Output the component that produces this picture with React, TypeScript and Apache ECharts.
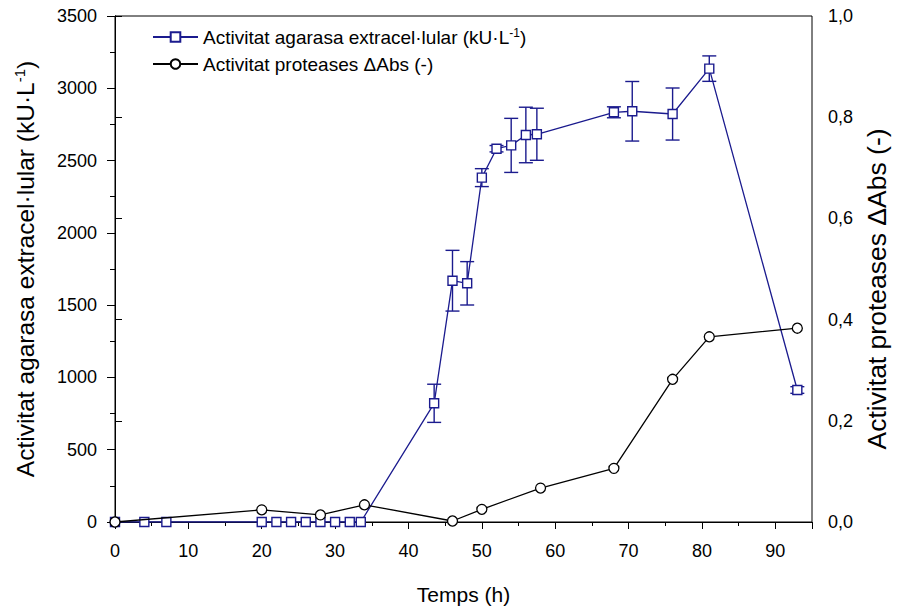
import React, { useEffect, useRef } from "react";
import * as echarts from "echarts";

// Time (h) of each agarase sample
const agaraseTimes = [0, 4, 7, 20, 22, 24, 26, 28, 30, 32, 33.5, 43.5, 46, 48, 50, 52, 54, 56, 57.5, 68, 70.5, 76, 81, 93];
// Extracellular agarase activity (kU·L-1)
const agaraseValues = [0, 0, 0, 0, 0, 0, 0, 0, 0, 0, 0, 821, 1669, 1651, 2382, 2582, 2605, 2677, 2682, 2834, 2841, 2822, 3136, 913];
// Standard deviation of the agarase activity
const agaraseErrors = [0, 0, 0, 0, 0, 0, 0, 0, 0, 0, 0, 132, 210, 150, 62, 22, 187, 192, 180, 38, 206, 180, 88, 23];

// Protease samples: time (h) and ΔAbs
const proteaseTimes = [0, 20, 28, 34, 46, 50, 58, 68, 76, 81, 93];
const proteaseValues = [0, 0.024, 0.014, 0.034, 0.002, 0.025, 0.067, 0.106, 0.282, 0.366, 0.383];

const xTicks = [0, 10, 20, 30, 40, 50, 60, 70, 80, 90];

const AGARASE_NAME = "Activitat agarasa extracel·lular (kU·L-1)";
const PROTEASE_NAME = "Activitat proteases ΔAbs (-)";

const BLUE = "#1b1b8e";
const FONT = "'Liberation Sans', Arial, sans-serif";

export default function App() {
  const ref = useRef<HTMLDivElement>(null);

  useEffect(() => {
    document.body.style.margin = "0";
    if (!ref.current) return;
    const chart = echarts.init(ref.current, null, { renderer: "svg" });

    const agarase = agaraseTimes.map((t, i) => [t, agaraseValues[i]]);
    const errorData = agaraseTimes
      .map((t, i) => [t, agaraseValues[i], agaraseErrors[i]])
      .filter((d) => d[2] > 0);
    const protease = proteaseTimes.map((t, i) => [t, proteaseValues[i]]);

    const sup = { fontSize: 12, fontFamily: FONT, color: "#000", verticalAlign: "bottom", padding: [0, 0, 9, 0] };

    chart.setOption({
      animation: false,
      backgroundColor: "#fff",
      textStyle: { fontFamily: FONT },
      grid: {
        left: 115,
        right: 93,
        top: 16,
        bottom: 88,
        show: true,
        borderColor: "#000",
        borderWidth: 1,
        backgroundColor: "transparent",
      },
      legend: {
        orient: "vertical",
        left: 147,
        top: 21,
        itemWidth: 45,
        itemHeight: 12,
        itemGap: 5,
        data: [AGARASE_NAME, PROTEASE_NAME],
        formatter: (name: string) =>
          name === AGARASE_NAME ? "Activitat agarasa extracel·lular (kU·L{sup|-1})" : name,
        textStyle: {
          fontSize: 19,
          lineHeight: 22,
          color: "#000",
          fontFamily: FONT,
          rich: { sup },
        },
      },
      xAxis: [
        {
          type: "value",
          min: 0,
          max: 95,
          interval: 10,
          name: "Temps (h)",
          nameLocation: "middle",
          nameGap: 62,
          nameTextStyle: { fontSize: 21, color: "#000", fontFamily: FONT },
          axisLine: { lineStyle: { color: "#000", width: 1 } },
          axisTick: { length: 7, lineStyle: { color: "#000" } },
          axisLabel: {
            fontSize: 18,
            color: "#000",
            margin: 20,
            fontFamily: FONT,
            formatter: (v: number) => (xTicks.includes(v) ? String(v) : ""),
          },
          splitLine: { show: false },
        },
        {
          // minor ticks every 5 h
          type: "value",
          position: "bottom",
          min: 0,
          max: 95,
          interval: 5,
          axisLine: { show: false },
          axisTick: { length: 4, lineStyle: { color: "#000" } },
          axisLabel: { show: false },
          splitLine: { show: false },
        },
      ],
      yAxis: [
        {
          type: "value",
          min: 0,
          max: 3500,
          interval: 500,
          position: "left",
          name: "Activitat agarasa extracel·lular (kU·L{sup|-1})",
          nameLocation: "middle",
          nameRotate: 90,
          nameGap: 77,
          nameTextStyle: {
            fontSize: 24.5,
            color: "#000",
            fontFamily: FONT,
            rich: { sup: { ...sup, fontSize: 15, padding: [0, 0, 11, 0] } },
          },
          axisLine: { show: true, lineStyle: { color: "#000", width: 1 } },
          axisTick: { show: true, length: 8, lineStyle: { color: "#000" } },
          minorTick: { show: true, splitNumber: 2, length: 5, lineStyle: { color: "#000" } },
          axisLabel: {
            fontSize: 18,
            color: "#000",
            margin: 18,
            fontFamily: FONT,
            formatter: (v: number) => String(v),
          },
          splitLine: { show: false },
        },
        {
          type: "value",
          min: 0,
          max: 1,
          interval: 0.2,
          position: "right",
          name: PROTEASE_NAME,
          nameLocation: "middle",
          nameRotate: 90,
          nameGap: 50,
          nameTextStyle: { fontSize: 26.5, color: "#000", fontFamily: FONT, padding: [0, 40, 0, 0] },
          axisLine: { show: true, lineStyle: { color: "#000", width: 1 } },
          axisTick: { show: true, length: 7, lineStyle: { color: "#000" } },
          axisLabel: {
            fontSize: 18,
            color: "#000",
            margin: 16,
            fontFamily: FONT,
            formatter: (v: number) => v.toFixed(1).replace(".", ","),
          },
          splitLine: { show: false },
        },
      ],
      series: [
        {
          type: "custom",
          name: "errors",
          xAxisIndex: 0,
          yAxisIndex: 0,
          z: 1,
          data: errorData,
          encode: { x: 0, y: 1 },
          renderItem: (_params: any, api: any) => {
            const x = api.value(0);
            const y = api.value(1);
            const e = api.value(2);
            const top = api.coord([x, y + e]);
            const bot = api.coord([x, y - e]);
            const hw = 7;
            const style = { stroke: BLUE, lineWidth: 1.4 };
            return {
              type: "group",
              children: [
                { type: "line", shape: { x1: top[0], y1: top[1], x2: bot[0], y2: bot[1] }, style },
                { type: "line", shape: { x1: top[0] - hw, y1: top[1], x2: top[0] + hw, y2: top[1] }, style },
                { type: "line", shape: { x1: bot[0] - hw, y1: bot[1], x2: bot[0] + hw, y2: bot[1] }, style },
              ],
            };
          },
        },
        {
          type: "line",
          name: AGARASE_NAME,
          xAxisIndex: 0,
          yAxisIndex: 0,
          z: 2,
          data: agarase,
          symbol: "rect",
          symbolSize: 9,
          lineStyle: { color: BLUE, width: 1.3 },
          itemStyle: { color: "#fff", borderColor: BLUE, borderWidth: 1.4 },
          emphasis: { disabled: true },
        },
        {
          type: "line",
          name: PROTEASE_NAME,
          xAxisIndex: 0,
          yAxisIndex: 1,
          z: 3,
          data: protease,
          symbol: "circle",
          symbolSize: 10,
          lineStyle: { color: "#000", width: 1.3 },
          itemStyle: { color: "#fff", borderColor: "#000", borderWidth: 1.3 },
          emphasis: { disabled: true },
        },
      ],
    });

    return () => chart.dispose();
  }, []);

  return <div ref={ref} style={{ width: 905, height: 610 }} />;
}
